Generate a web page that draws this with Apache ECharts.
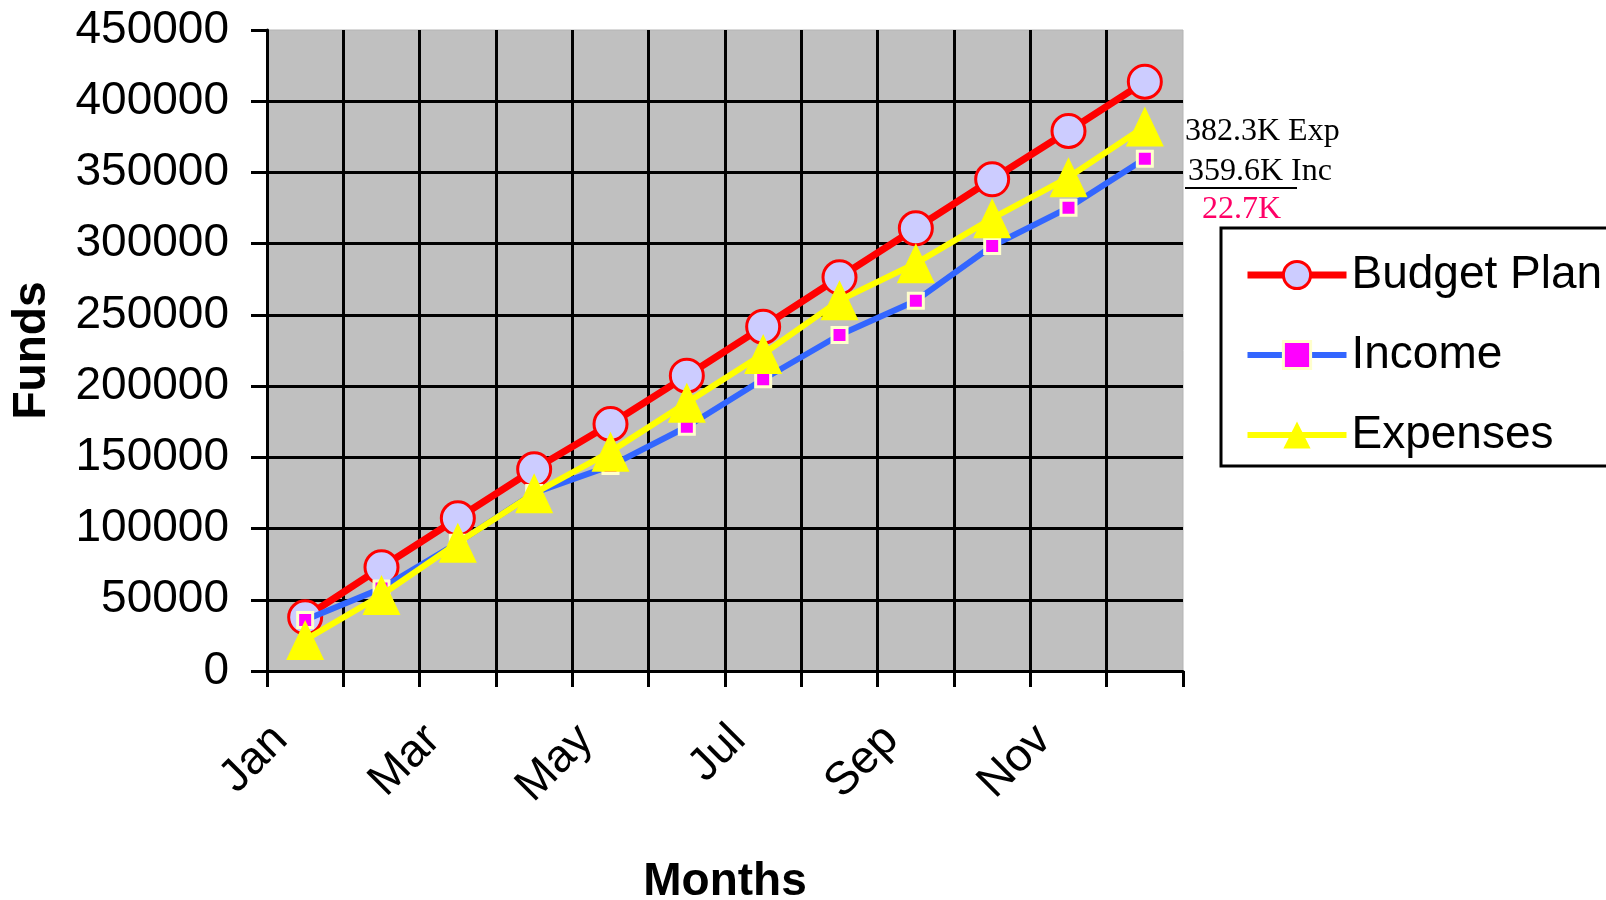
<!DOCTYPE html>
<html>
<head>
<meta charset="utf-8">
<script src="https://cdn.jsdelivr.net/npm/echarts@6/dist/echarts.min.js"></script>
<style>html,body{margin:0;padding:0;background:#fff;}#c{width:1606px;height:900px;}</style>
</head>
<body>
<div id="c"></div>
<script>
const months = ['Jan','Feb','Mar','Apr','May','Jun','Jul','Aug','Sep','Oct','Nov','Dec'];
const budgetPlan = [37700, 72800, 107200, 141600, 173400, 207300, 241700, 276400, 310800, 345200, 379100, 413700];
const income     = [35800, 58000, 90000, 125000, 144000, 171500, 204800, 235900, 260000, 298400, 325300, 359600];
const expenses   = [21800, 53300, 90100, 124700, 154000, 188400, 222500, 260200, 286200, 317800, 346600, 382300];
const yTicks = {min: 0, max: 450000, interval: 50000};
const notes = ['382.3K Exp', '359.6K Inc', '22.7K'];

const FONT = '"Liberation Sans", Arial, sans-serif';
const SERIF = '"Liberation Serif", "Times New Roman", serif';

const chart = echarts.init(document.getElementById('c'), null, {renderer: 'canvas'});
chart.setOption({
  animation: false,
  backgroundColor: '#ffffff',
  grid: {
    left: 267, right: 423, top: 30, bottom: 229,
    containLabel: false, outerBoundsMode: 'none',
    show: true, backgroundColor: '#c0c0c0', borderColor: '#b4b4b4', borderWidth: 1
  },
  xAxis: {
    type: 'category',
    data: months,
    boundaryGap: true,
    name: 'Months',
    nameLocation: 'middle',
    nameGap: 188,
    nameTextStyle: {fontFamily: FONT, fontSize: 46, fontWeight: 'bold', color: '#000'},
    axisLine: {show: true, lineStyle: {color: '#000', width: 3}},
    axisTick: {show: true, interval: 0, alignWithLabel: false, length: 16, lineStyle: {color: '#000', width: 3}},
    axisLabel: {interval: 1, rotate: 45, margin: 37, padding: [0, 35, 0, 0], fontFamily: FONT, fontSize: 46, color: '#000'},
    splitLine: {show: true, interval: 0, showMinLine: false, showMaxLine: false, lineStyle: {color: '#000', width: 3}}
  },
  yAxis: {
    type: 'value',
    min: yTicks.min, max: yTicks.max, interval: yTicks.interval,
    name: 'Funds',
    nameLocation: 'middle',
    nameGap: 212,
    nameTextStyle: {fontFamily: FONT, fontSize: 46, fontWeight: 'bold', color: '#000'},
    axisLine: {show: true, lineStyle: {color: '#000', width: 3}},
    axisTick: {show: true, length: 16, lineStyle: {color: '#000', width: 3}},
    axisLabel: {margin: 38, fontFamily: FONT, fontSize: 46, color: '#000', formatter: function (v) { return String(v); }},
    splitLine: {show: true, showMinLine: false, showMaxLine: false, lineStyle: {color: '#000', width: 3}}
  },
  legend: {
    orient: 'vertical',
    left: 1239,
    top: 247,
    itemWidth: 99,
    itemHeight: 34,
    itemGap: 34,
    lineStyle: {width: 'inherit'},
    itemStyle: {borderWidth: 'inherit'},
    textStyle: {fontFamily: FONT, fontSize: 46, color: '#000', padding: [0, 0, 0, 0]},
    data: ['Budget Plan', 'Income', 'Expenses']
  },
  graphic: [
    {type: 'rect', z: 0, zlevel: 0, shape: {x: 1221, y: 228, width: 420, height: 238},
     style: {fill: '#fff', stroke: '#000', lineWidth: 3}},
    {type: 'text', left: 1185, top: 116, style: {text: notes[0], font: '32px ' + SERIF, fill: '#000'}},
    {type: 'text', left: 1188, top: 156, style: {text: notes[1], font: '32px ' + SERIF, fill: '#000'}},
    {type: 'line', shape: {x1: 1185, y1: 188, x2: 1297, y2: 188}, style: {stroke: '#000', lineWidth: 2}},
    {type: 'text', left: 1202, top: 194, style: {text: notes[2], font: '32px ' + SERIF, fill: '#ff0066'}}
  ],
  series: [
    {
      name: 'Budget Plan', type: 'line', data: budgetPlan, z: 2,
      symbol: 'circle', symbolSize: 33,
      lineStyle: {color: '#ff0000', width: 7},
      itemStyle: {color: '#ccccff', borderColor: '#ff0000', borderWidth: 3}
    },
    {
      name: 'Income', type: 'line', data: income, z: 3,
      symbol: 'rect', symbolSize: 15,
      lineStyle: {color: '#3366ff', width: 6},
      itemStyle: {color: '#ff00ff', borderColor: '#ffffcc', borderWidth: 3}
    },
    {
      name: 'Expenses', type: 'line', data: expenses, z: 4,
      symbol: 'triangle', symbolSize: [38, 40],
      lineStyle: {color: '#ffff00', width: 6},
      itemStyle: {color: '#ffff00', borderWidth: 0}
    }
  ]
});
</script>
</body>
</html>
